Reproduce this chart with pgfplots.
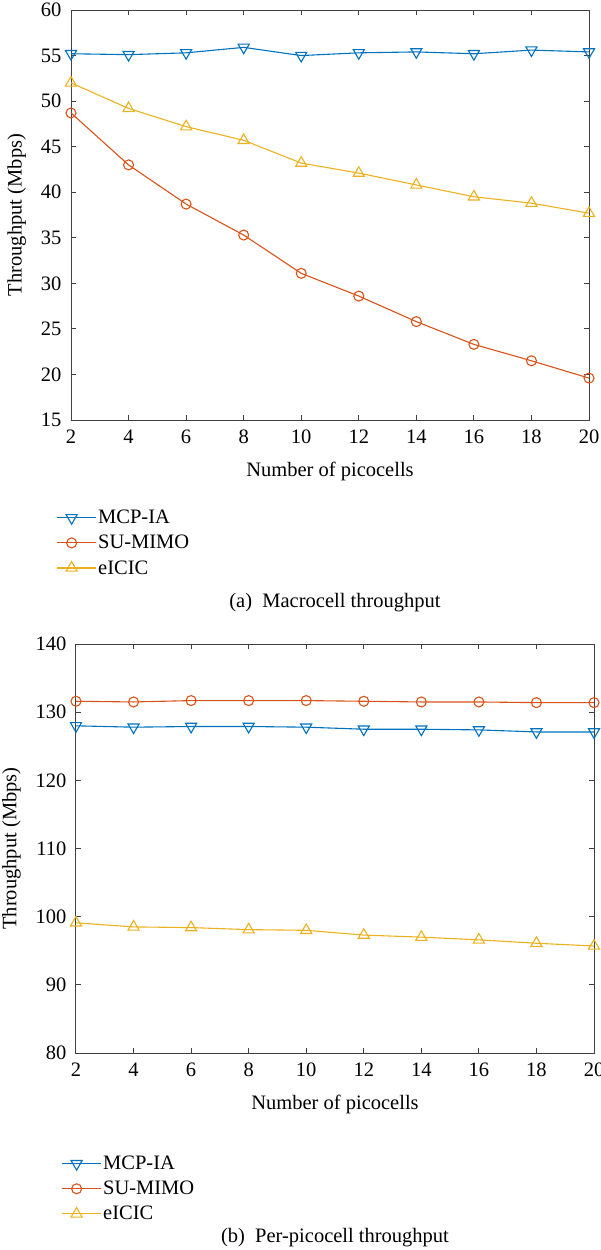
\documentclass[border=0pt]{standalone}
\usepackage{fontspec}
\setmainfont{Liberation Serif}
\usepackage{pgfplots}
\pgfplotsset{compat=1.18}
\definecolor{c1}{rgb}{0,0.447,0.741}
\definecolor{c2}{rgb}{0.85,0.325,0.098}
\definecolor{c3}{rgb}{0.929,0.694,0.125}
\newcommand{\fs}{\fontsize{20.5}{23}\selectfont}
\pgfplotsset{
 myaxis/.style={
  scale only axis, width=518pt,
  xmin=2, xmax=20, xtick={2,4,...,20},
  tick align=inside, major tick length=5pt,
  axis line style={draw=black!75, line width=1pt},
  every tick/.style={black!75, line width=1pt},
  tick label style={font=\fs},
  x tick label style={yshift=-6pt},
  y tick label style={xshift=-6pt},
  label style={font=\fs},
  xlabel style={yshift=-12pt},
  ylabel style={yshift=8pt},
  /pgf/number format/assume math mode=true,
  xlabel={Number of picocells},
  ylabel={Throughput (Mbps)},
  clip=false,
  legend style={draw=none, fill=none, font=\fs, anchor=north west, row sep=6pt},
  legend cell align=left,
  legend image code/.code={\path (0pt,0pt)--(39pt,0pt);\draw[mark repeat=2,mark phase=2] plot coordinates {(0pt,0pt)(15pt,0pt)(30pt,0pt)};},
  every axis plot/.append style={line width=1.1pt},
 },
 s1/.style={color=c1, mark=triangle, mark size=6.4pt, mark options={solid, rotate=180, line width=1.1pt}},
 s2/.style={color=c2, mark=o, mark size=5pt, mark options={solid, line width=1.1pt}},
 s3/.style={color=c3, mark=triangle, mark size=6.4pt, mark options={solid, line width=1.1pt}},
}
\begin{document}
\begin{tikzpicture}[x=1pt,y=1pt]
\useasboundingbox (0,0) rectangle (601,-1250);
\begin{axis}[myaxis, at={(71pt,-420pt)}, anchor=south west, height=410pt,
  ymin=15, ymax=60, ytick={15,20,...,60},
  legend style={at={(axis description cs:-0.035,-0.21)}}]
\addplot[s1] coordinates {(2,55.2)(4,55.1)(6,55.3)(8,55.9)(10,55.0)(12,55.3)(14,55.4)(16,55.2)(18,55.6)(20,55.4)};
\addlegendentry{MCP-IA}
\addplot[s2] coordinates {(2,48.7)(4,43.0)(6,38.7)(8,35.3)(10,31.1)(12,28.6)(14,25.8)(16,23.3)(18,21.5)(20,19.6)};
\addlegendentry{SU-MIMO}
\addplot[s3] coordinates {(2,52.0)(4,49.2)(6,47.2)(8,45.7)(10,43.2)(12,42.1)(14,40.8)(16,39.5)(18,38.8)(20,37.7)};
\addlegendentry{eICIC}
\end{axis}
\node[font=\fs] at (335pt,-603pt) {(a)\enspace Macrocell throughput};
\begin{axis}[myaxis, at={(76pt,-1053pt)}, anchor=south west, height=409pt,
  ymin=80, ymax=140, ytick={80,90,...,140},
  legend style={at={(axis description cs:-0.035,-0.242)}}]
\addplot[s1] coordinates {(2,128.0)(4,127.8)(6,127.9)(8,127.9)(10,127.8)(12,127.5)(14,127.5)(16,127.4)(18,127.1)(20,127.1)};
\addlegendentry{MCP-IA}
\addplot[s2] coordinates {(2,131.6)(4,131.5)(6,131.7)(8,131.7)(10,131.7)(12,131.6)(14,131.5)(16,131.5)(18,131.4)(20,131.4)};
\addlegendentry{SU-MIMO}
\addplot[s3] coordinates {(2,99.1)(4,98.5)(6,98.4)(8,98.1)(10,98.0)(12,97.3)(14,97.0)(16,96.6)(18,96.1)(20,95.7)};
\addlegendentry{eICIC}
\end{axis}
\node[font=\fs] at (335pt,-1238pt) {(b)\enspace Per-picocell throughput};
\end{tikzpicture}
\end{document}
